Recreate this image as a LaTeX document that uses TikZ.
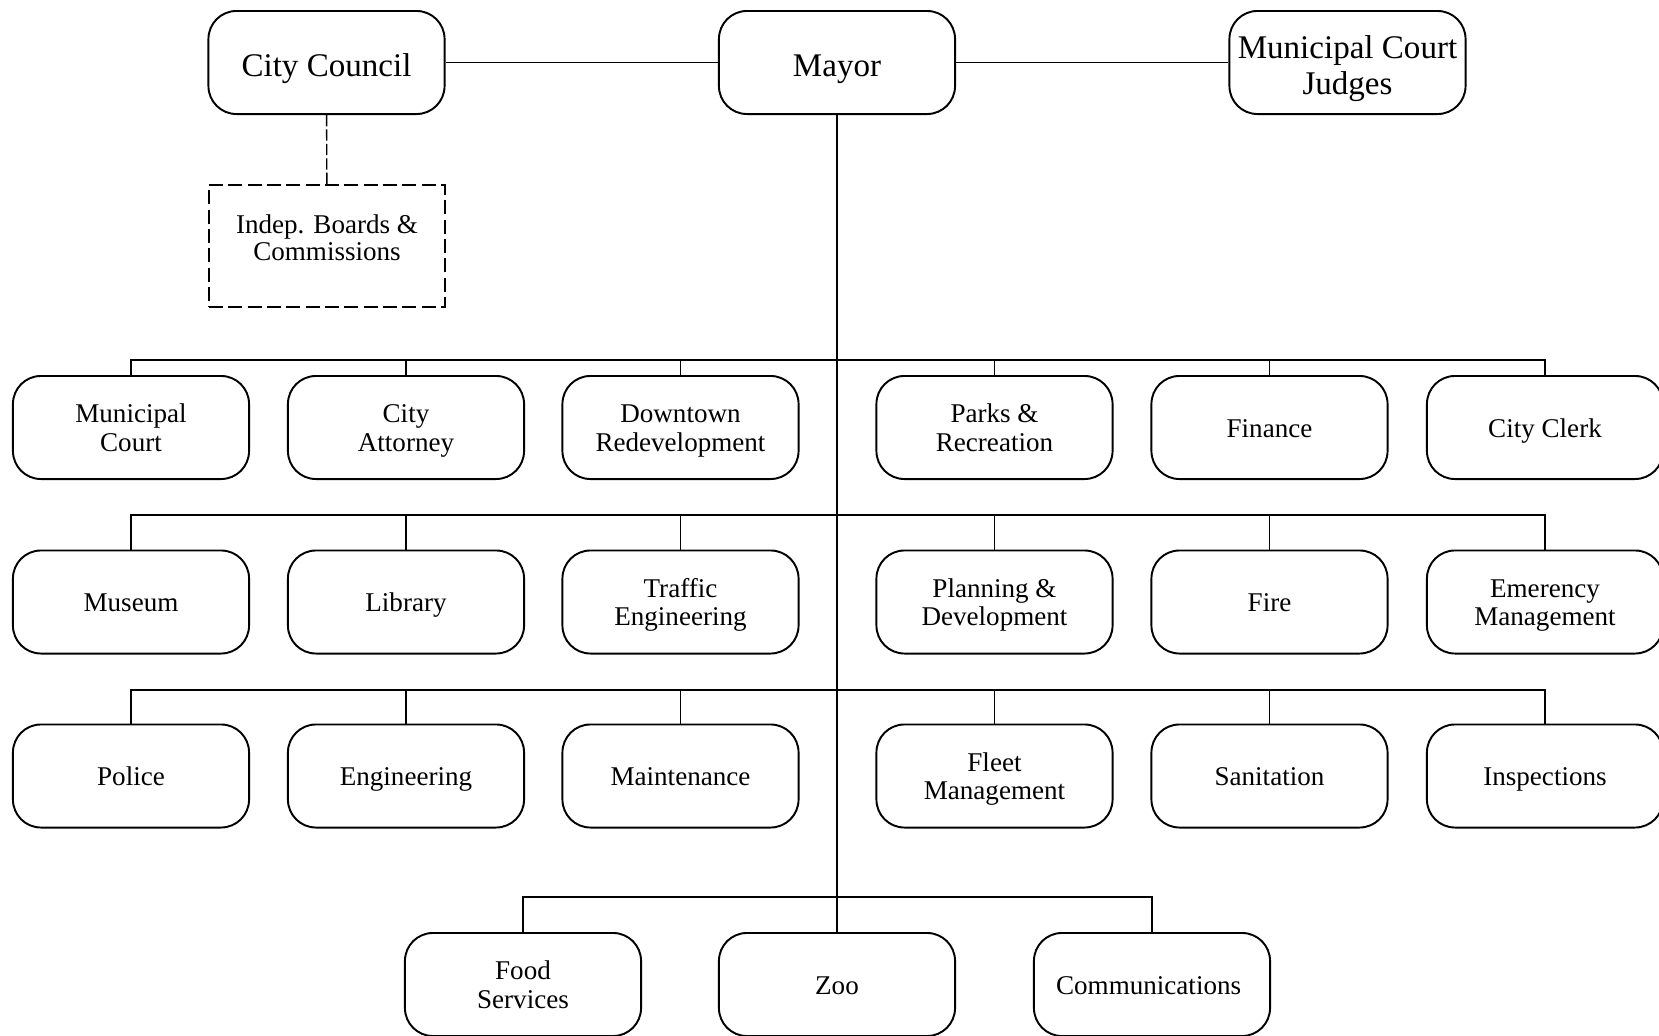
\documentclass[tikz,border=0pt]{standalone}
\usepackage{fontspec}
\setmainfont{Liberation Serif}
\usepackage{tikz}

% struts that fix the first line's height and the last line's depth
\newcommand{\uprule}[1]{\rule{0pt}{#1}}
\newcommand{\downrule}[1]{\rule[-#1]{0pt}{#1}}

\tikzset{
  officebox/.style={draw,line width=0.55pt,rounded corners=0.28cm,
    minimum width=2.36cm,minimum height=1.03cm,inner sep=1pt,align=center,
    font=\fontsize{9.4}{10}\selectfont},
  deptbox/.style={officebox,font=\fontsize{7.7}{8.1}\selectfont},
  boardbox/.style={draw,line width=0.55pt,dash pattern=on 4pt off 1.5pt,
    minimum width=2.36cm,minimum height=1.22cm,inner sep=1pt,align=center,
    font=\fontsize{7.7}{7.9}\selectfont},
  link/.style={line width=0.4pt}
}

\begin{document}
\begin{tikzpicture}[x=0.01cm,y=-0.01cm]
  % --- page frame ---
  \useasboundingbox (0,0) rectangle (1659,1036);
  \clip (0,0) rectangle (1659,1036);

  % --- top level ---
  \node[officebox] (council) at (326.5,62.5) {\uprule{10pt}City Council};
  \node[officebox] (mayor) at (837,62.5) {\uprule{10pt}Mayor};
  \node[officebox] (judges) at (1347.5,62.5) {\uprule{10pt}Municipal Court\\Judges};
  \node[boardbox] (boards) at (327,246) {Indep. Boards \&\\Commissions\downrule{4.8pt}};

  \draw[link] (council) -- (mayor);
  \draw[link] (mayor) -- (judges);
  \draw[link,dash pattern=on 3.2pt off 0.9pt] (council) -- (boards);

  % --- bus lines below the mayor ---
  \coordinate (busA) at (837,360);
  \coordinate (busB) at (837,515);
  \coordinate (busC) at (837,690);
  \coordinate (busD) at (837,897);

  % --- departments (name/x/y/bus/label) ---
  \foreach \n/\x/\y/\b/\t in {
    court/131/427.5/busA/{Municipal\\Court},
    attorney/406/427.5/busA/{City\\Attorney},
    downtown/680.5/427.5/busA/{Downtown\\Redevelopment},
    parks/994.5/427.5/busA/{Parks \&\\Recreation},
    finance/1269.5/427.5/busA/{Finance},
    clerk/1545/427.5/busA/{City Clerk},
    museum/131/602/busB/{Museum},
    library/406/602/busB/{Library},
    traffic/680.5/602/busB/{Traffic\\Engineering},
    planning/994.5/602/busB/{Planning \&\\Development},
    fire/1269.5/602/busB/{Fire},
    emergency/1545/602/busB/{Emerency\\Management},
    police/131/776/busC/{Police},
    engineering/406/776/busC/{Engineering},
    maintenance/680.5/776/busC/{Maintenance},
    fleet/994.5/776/busC/{Fleet\\Management},
    sanitation/1269.5/776/busC/{Sanitation},
    inspections/1545/776/busC/{Inspections},
    food/523/984.5/busD/{Food\\Services},
    comms/1152/984.5/busD/{Communications}
  }{
    \node[deptbox] (\n) at (\x,\y) {\uprule{7.5pt}\t\downrule{2pt}};
    \draw[link] (\n.north) |- (\b);
  }

  \node[deptbox] (zoo) at (837,984.5) {\uprule{7.5pt}Zoo\downrule{2pt}};

  % --- trunk from the mayor down to the zoo ---
  \draw[link] (mayor.south) -- (zoo.north);

\end{tikzpicture}
\end{document}
